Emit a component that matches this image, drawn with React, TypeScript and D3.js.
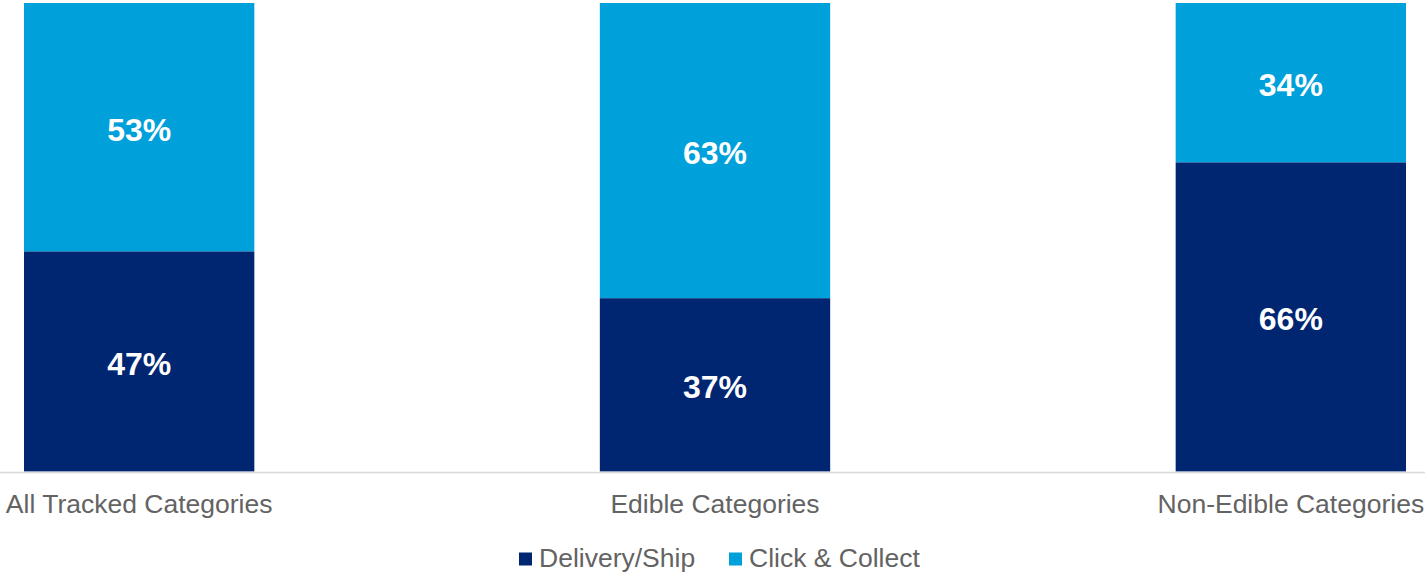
import React from "react";
import * as d3 from "d3";

const categories = ["All Tracked Categories", "Edible Categories", "Non-Edible Categories"];
const deliveryShip = [47, 37, 66];
const clickCollect = [53, 63, 34];
const seriesNames = ["Delivery/Ship", "Click & Collect"];
const seriesColors = ["#002672", "#00A0DA"];

const W = 1425;
const H = 573;
const FONT = "'Liberation Sans', Arial, sans-serif";

export default function App() {
  const x = d3.scaleBand<string>().domain(categories).range([24, 1406]).paddingInner(0.6).paddingOuter(0);
  const y = d3.scaleLinear().domain([0, 100]).range([471.5, 3]);

  const rows = categories.map((c, i) => ({ cat: c, d: deliveryShip[i], c2: clickCollect[i] }));
  const stack = d3.stack<any>().keys(["d", "c2"])(rows as any);

  const legendItems = [
    { name: seriesNames[0], color: seriesColors[0], x: 519 },
    { name: seriesNames[1], color: seriesColors[1], x: 729 },
  ];

  return (
    <svg width={W} height={H} style={{ position: "absolute", left: 0, top: 0, background: "#fff" }} fontFamily={FONT}>
      {stack.map((layer, si) => (
        <g key={si}>
          {layer.map((seg, i) => {
            const x0 = x(categories[i])!;
            const yTop = y(seg[1]);
            const yBot = y(seg[0]);
            const val = seg[1] - seg[0];
            return (
              <g key={i}>
                <rect x={x0} y={yTop} width={x.bandwidth()} height={yBot - yTop} fill={seriesColors[si]} />
                <text
                  x={x0 + x.bandwidth() / 2}
                  y={(yTop + yBot) / 2}
                  dy="0.42em"
                  textAnchor="middle"
                  fill="#fff"
                  fontWeight="bold"
                  fontSize={32}
                >
                  {val}%
                </text>
              </g>
            );
          })}
        </g>
      ))}
      <line x1={0} x2={W} y1={472.5} y2={472.5} stroke="#d9d9d9" strokeWidth={1.5} />
      {categories.map((c) => (
        <text key={c} x={x(c)! + x.bandwidth() / 2} y={513} textAnchor="middle" fill="#636363" fontSize={26.5}>
          {c}
        </text>
      ))}
      {legendItems.map((it) => (
        <g key={it.name}>
          <rect x={it.x} y={552.5} width={13} height={13} fill={it.color} />
          <text x={it.x + 20} y={566.5} fill="#636363" fontSize={26.5}>
            {it.name}
          </text>
        </g>
      ))}
    </svg>
  );
}
